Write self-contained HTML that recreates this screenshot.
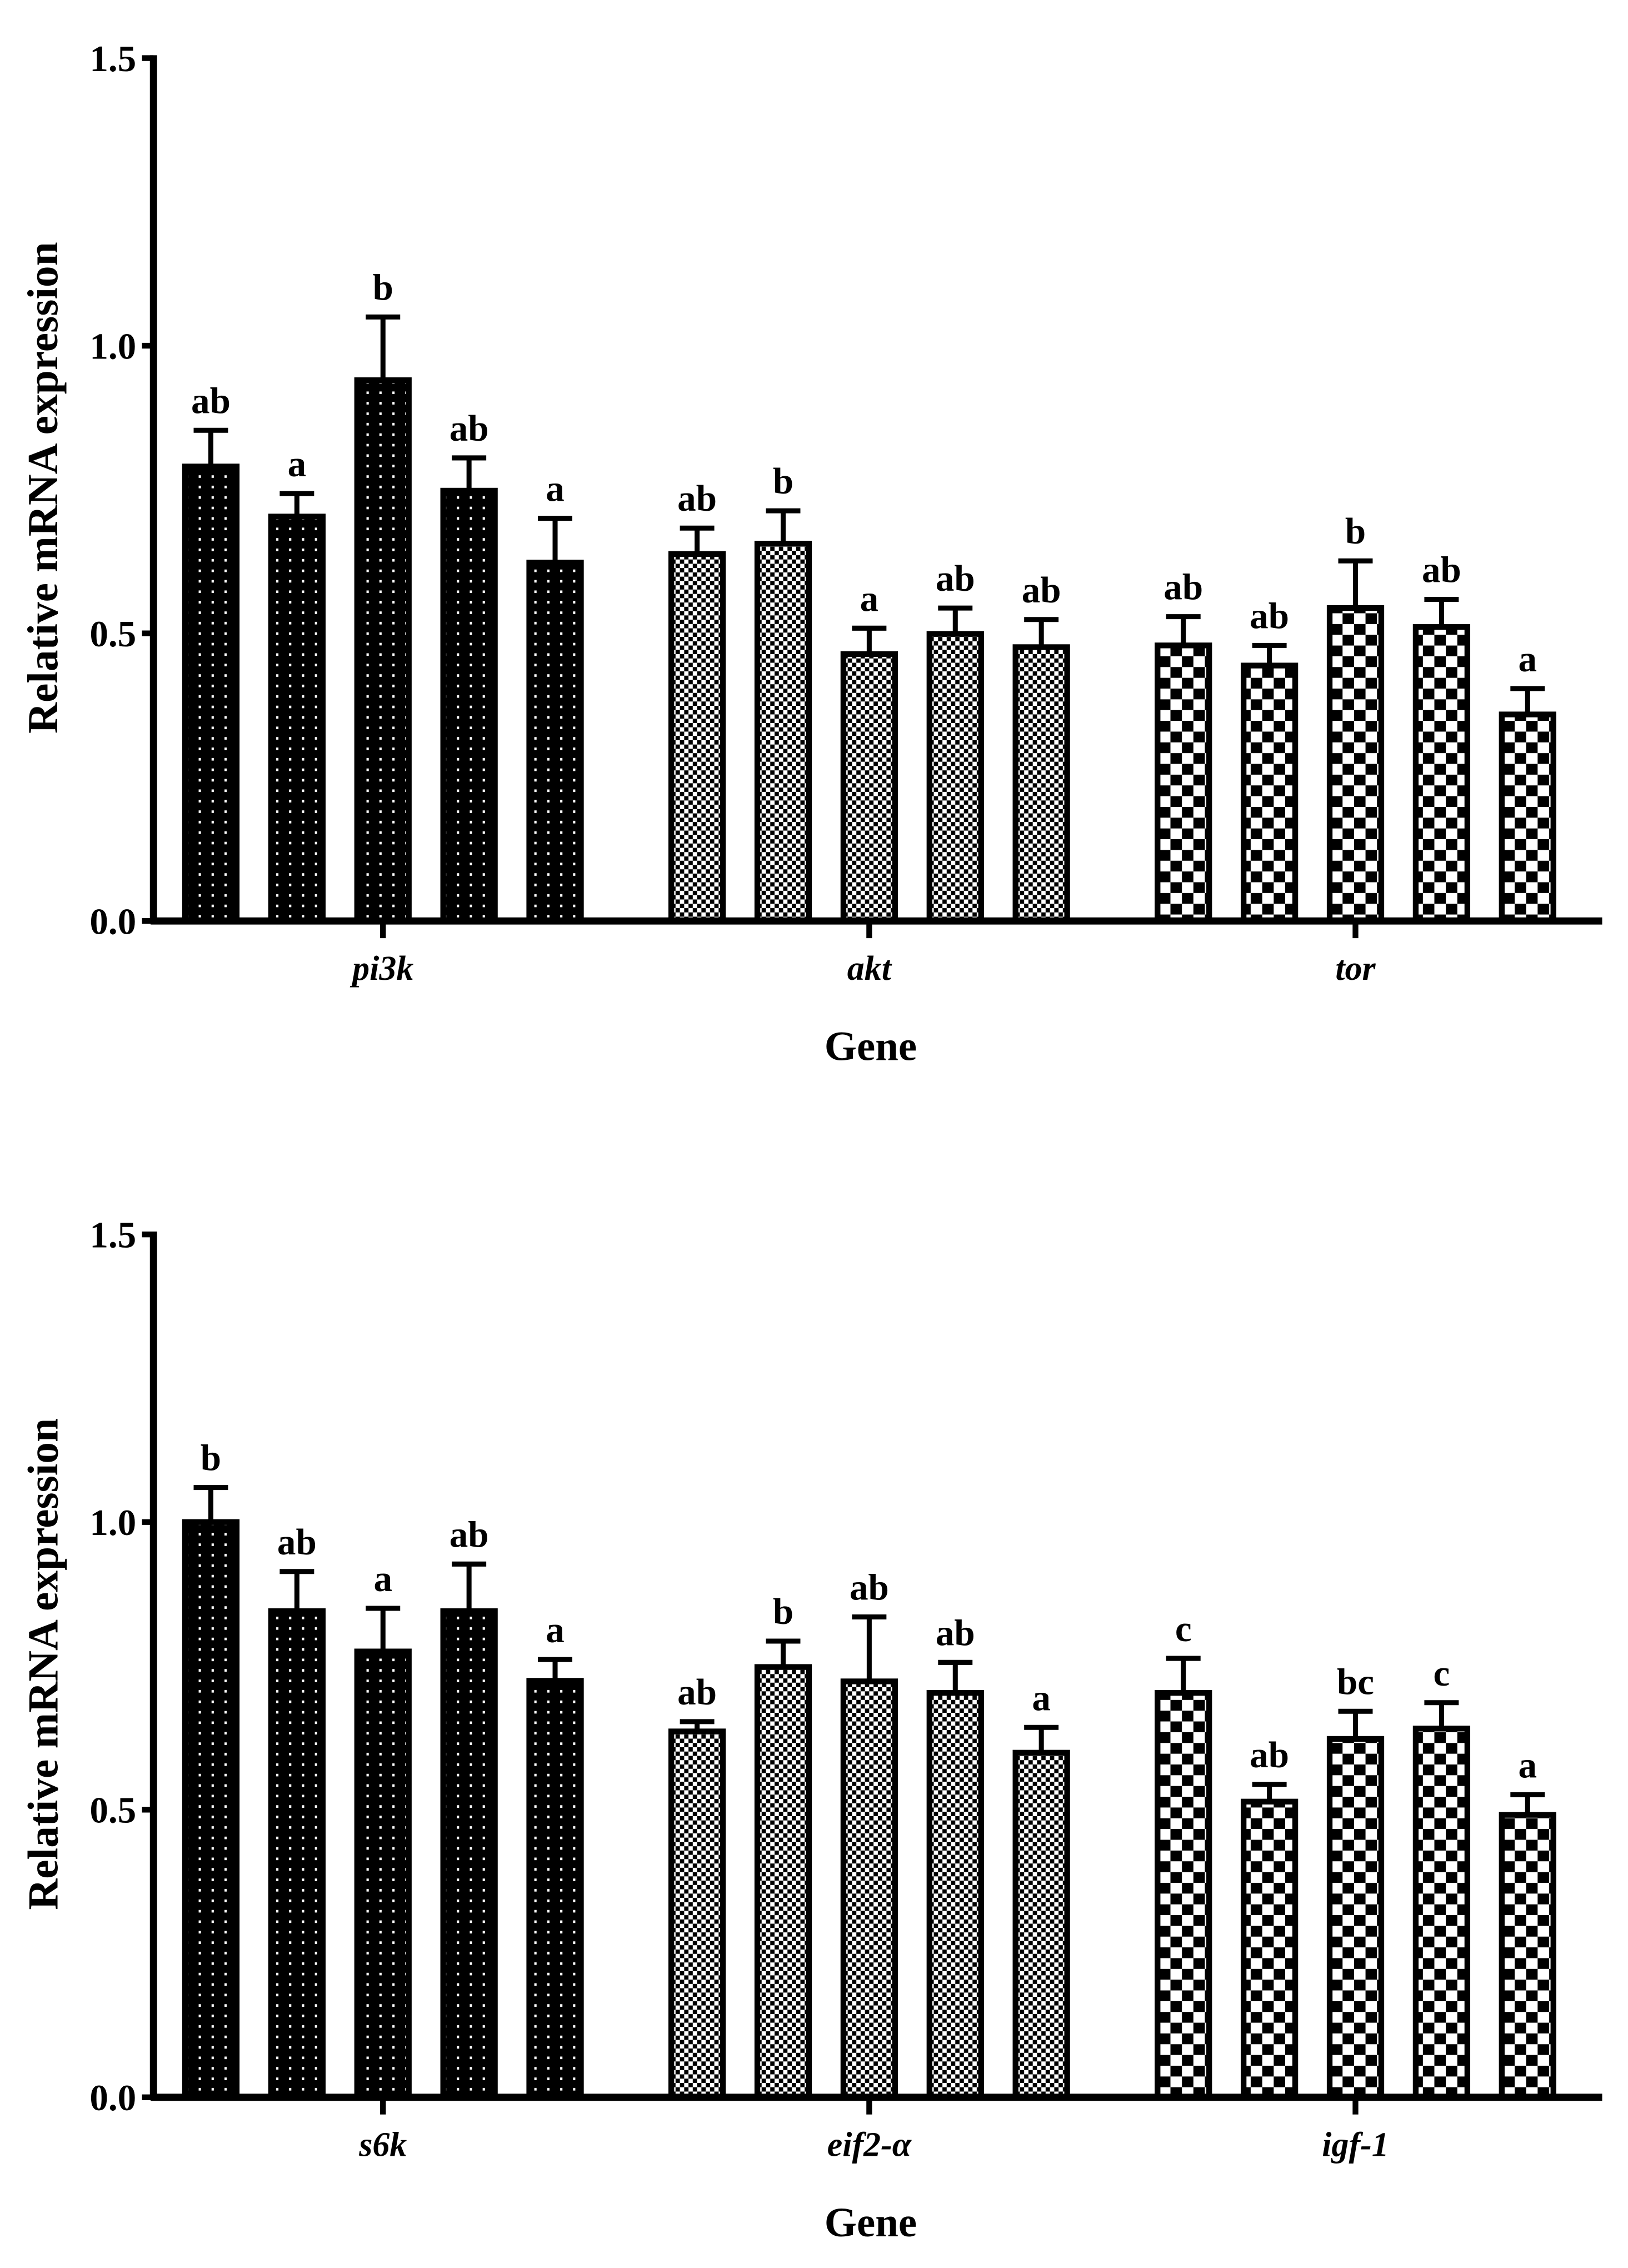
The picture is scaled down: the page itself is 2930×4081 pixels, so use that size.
<!DOCTYPE html>
<html><head><meta charset="utf-8"><style>
html,body{margin:0;padding:0;background:#fff;}
svg{display:block;}
text{font-family:"Liberation Serif",serif;font-weight:bold;fill:#000;}
</style></head><body>
<svg id="fig" xmlns="http://www.w3.org/2000/svg" width="2930" height="4081" viewBox="0 0 1135 1581" preserveAspectRatio="none">
<defs>
<pattern id="pDots" patternUnits="userSpaceOnUse" width="9" height="7.3">
<rect width="9" height="7.3" fill="#000"/>
<rect x="3.5" y="2.8" width="1.6" height="1.8" fill="#fff"/>
</pattern>
<pattern id="pFine" patternUnits="userSpaceOnUse" width="6" height="6">
<rect width="6" height="6" fill="#fff"/>
<rect x="0" y="0" width="3" height="3" fill="#000"/>
<rect x="3" y="3" width="3" height="3" fill="#000"/>
</pattern>
<pattern id="pCoarse" patternUnits="userSpaceOnUse" width="16" height="15">
<rect width="16" height="15" fill="#fff"/>
<rect x="0" y="0" width="8" height="7.5" fill="#000"/>
<rect x="8" y="7.5" width="8" height="7.5" fill="#000"/>
</pattern>
</defs>
<g id="panels"></g>
</svg>
<script>
const genesTop = ["pi3k","akt","tor"];
const valuesTop = [0.79,0.703,0.94,0.748,0.623, 0.638,0.656,0.464,0.499,0.476, 0.479,0.444,0.544,0.511,0.359];
const errTop = [0.853,0.743,1.05,0.805,0.70, 0.683,0.713,0.509,0.544,0.524, 0.529,0.479,0.626,0.559,0.404];
const lettersTop = ["ab","a","b","ab","a", "ab","b","a","ab","ab", "ab","ab","b","ab","a"];
const genesBot = ["s6k","eif2-α","igf-1"];
const valuesBot = [1.0,0.845,0.775,0.845,0.724, 0.636,0.748,0.723,0.703,0.599, 0.703,0.514,0.623,0.641,0.491];
const errBot = [1.06,0.914,0.85,0.927,0.761, 0.653,0.793,0.835,0.756,0.643, 0.763,0.544,0.671,0.686,0.526];
const lettersBot = ["b","ab","a","ab","a", "ab","b","ab","ab","a", "c","ab","bc","c","a"];
const yTicks = [0, 0.5, 1.0, 1.5];
const yTickLabels = ["0.0","0.5","1.0","1.5"];

const NS = "http://www.w3.org/2000/svg";
const root = document.getElementById('panels');
const fills = ["url(#pDots)","url(#pFine)","url(#pCoarse)"];
function mk(tag, attrs, parent){const e=document.createElementNS(NS,tag);for(const k in attrs)e.setAttribute(k,attrs[k]);parent.appendChild(e);return e;}

function panel(y0, genes, vals, errs, letters, idx){
  const g = mk('g',{},root);
  
  
  const yScale = v => y0 - v*401;
  const xScale = i => 147 + Math.floor(i/5)*339 + (i%5)*60;
  vals.forEach((v,i)=>{
    const xc = xScale(i), top = yScale(v), et = yScale(errs[i]);
    const el = mk('line',{x1:xc,x2:xc,y1:top,y2:et,stroke:'#000','stroke-width':3.5},g);
    
    
    const cap = mk('line',{x1:xc-12,x2:xc+12,y1:et,y2:et,stroke:'#000','stroke-width':3.5},g);
    
    
    const r = mk('rect',{x:xc-18,y:top,width:36,height:y0-top,fill:fills[Math.floor(i/5)],stroke:'#000','stroke-width':4},g);
    
    
    const t = mk('text',{x:xc,y:et-12,'text-anchor':'middle','font-size':26},g);
    t.textContent = letters[i];
    
    
  });
  const ya = mk('line',{x1:107,x2:107,y1:yScale(1.5)-2,y2:y0+2,stroke:'#000','stroke-width':5},g);
  
  
  yTicks.forEach((v,i)=>{
    const tk = mk('line',{x1:99,x2:107,y1:yScale(v),y2:yScale(v),stroke:'#000','stroke-width':4},g);
    
    
    const tl = mk('text',{x:95,y:yScale(v)+9,'text-anchor':'end','font-size':26},g);
    tl.textContent = yTickLabels[i];
    
    
  });
  const xa = mk('line',{x1:105,x2:1117,y1:y0,y2:y0,stroke:'#000','stroke-width':5},g);
  
  
  genes.forEach((gn,k)=>{
    const xc = xScale(k*5+2);
    const tk = mk('line',{x1:xc,x2:xc,y1:y0,y2:y0+12,stroke:'#000','stroke-width':4},g);
    
    
    const tl = mk('text',{x:xc,y:y0+41,'text-anchor':'middle','font-size':24,'font-style':'italic'},g);
    tl.textContent = gn;
    
    
  });
  const xt = mk('text',{x:607,y:y0+97,'text-anchor':'middle','font-size':29},g);
  xt.textContent = 'Gene';
  
  
  const yc = y0-302;
  const yt = mk('text',{x:40,y:yc,'text-anchor':'middle','font-size':30,transform:'rotate(-90 40 '+yc+')'},g);
  yt.textContent = 'Relative mRNA expression';
  
  
}
panel(642, genesTop, valuesTop, errTop, lettersTop, 1);
panel(1462, genesBot, valuesBot, errBot, lettersBot, 2);
</script>
</body></html>
